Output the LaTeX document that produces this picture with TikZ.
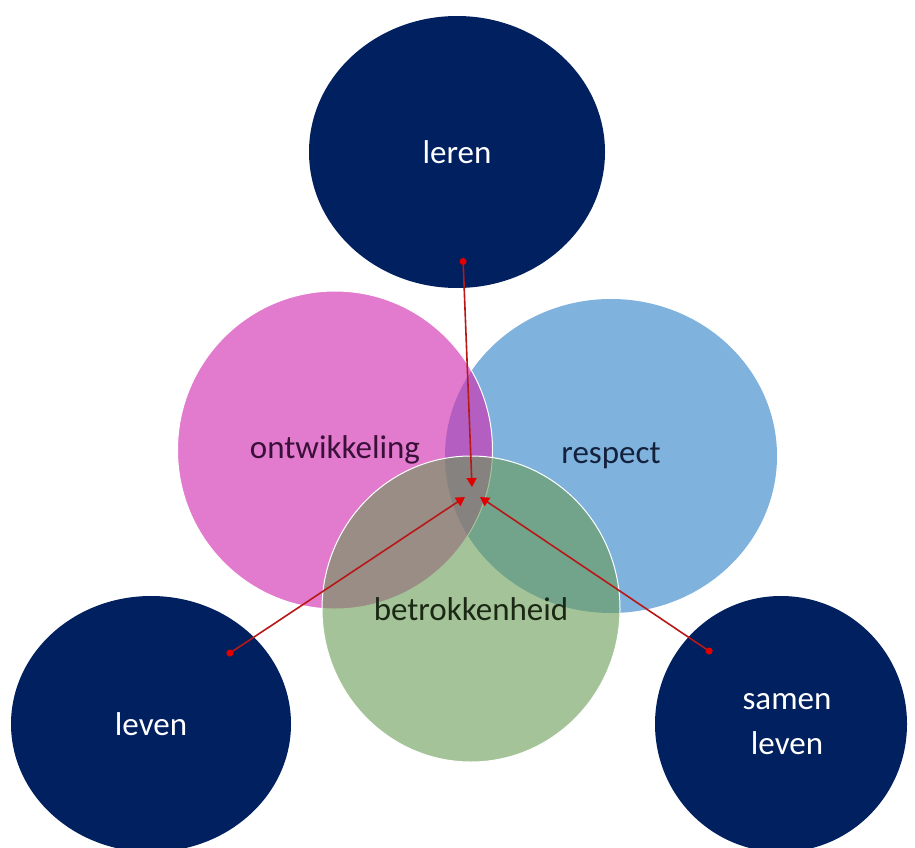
\documentclass[tikz,border=0pt]{standalone}
\usepackage{fontspec}
\setmainfont{Carlito}
\usetikzlibrary{shapes.geometric,arrows.meta}
\definecolor{navy}{HTML}{002060}
\definecolor{pinkc}{RGB}{210,45,176}
\definecolor{bluec}{HTML}{7FB2DC}
\definecolor{greenc}{RGB}{105,155,85}
\definecolor{arrowred}{HTML}{B81818}
\definecolor{tipred}{HTML}{E00000}
\tikzset{
  blob/.style={ellipse, inner sep=0pt, outer sep=0pt, font=\fontsize{33}{45}\selectfont, align=center},
  navyblob/.style={blob, fill=navy, text=white},
  linkarrow/.style={draw=arrowred, line width=1.6pt,
    arrows={Circle[length=7pt,width=7pt,color=tipred]-Triangle[length=9pt,width=10pt,color=tipred]}}
}
\begin{document}
\begin{tikzpicture}[x=1pt,y=-1pt]
\useasboundingbox[fill=white] (0,0) rectangle (915,848);
% outer navy circles
\node[navyblob, minimum width=296pt, minimum height=272pt] (leren) at (457,152) {leren};
\node[navyblob, minimum width=280pt, minimum height=256pt] (leven) at (151,724) {leven};
\node[navyblob, minimum width=252pt, minimum height=256pt] (samen) at (781,724) {\hspace*{12pt}samen\\\hspace*{12pt}leven};
% overlapping circles
\node[blob, fill=bluec, minimum width=332pt, minimum height=314pt, text={rgb,255:red,20;green,33;blue,61}] (respect) at (611,456) {respect};
\node[blob, fill=pinkc, fill opacity=0.63, text opacity=1, draw=white, line width=1pt, minimum width=315pt, minimum height=318pt, text={rgb,255:red,58;green,16;blue,56}] (ontw) at (335,450) {ontwikkeling};
\node[blob, fill=greenc, fill opacity=0.6, text opacity=1, draw=white, line width=1pt, minimum width=298pt, minimum height=306pt, text={rgb,255:red,26;green,40;blue,20}] (betr) at (471,609) {betrokkenheid};
% arrow end points
\coordinate (lerenEnd) at (463,258);
\coordinate (levenEnd) at (227,655);
\coordinate (samenEnd) at (712,653);
\coordinate (cTop) at (472,487);
\coordinate (cLeft) at (465,497);
\coordinate (cRight) at (480,497);
\draw[linkarrow] (lerenEnd) -- (cTop);
\draw[linkarrow] (levenEnd) -- (cLeft);
\draw[linkarrow] (samenEnd) -- (cRight);
\end{tikzpicture}
\end{document}
